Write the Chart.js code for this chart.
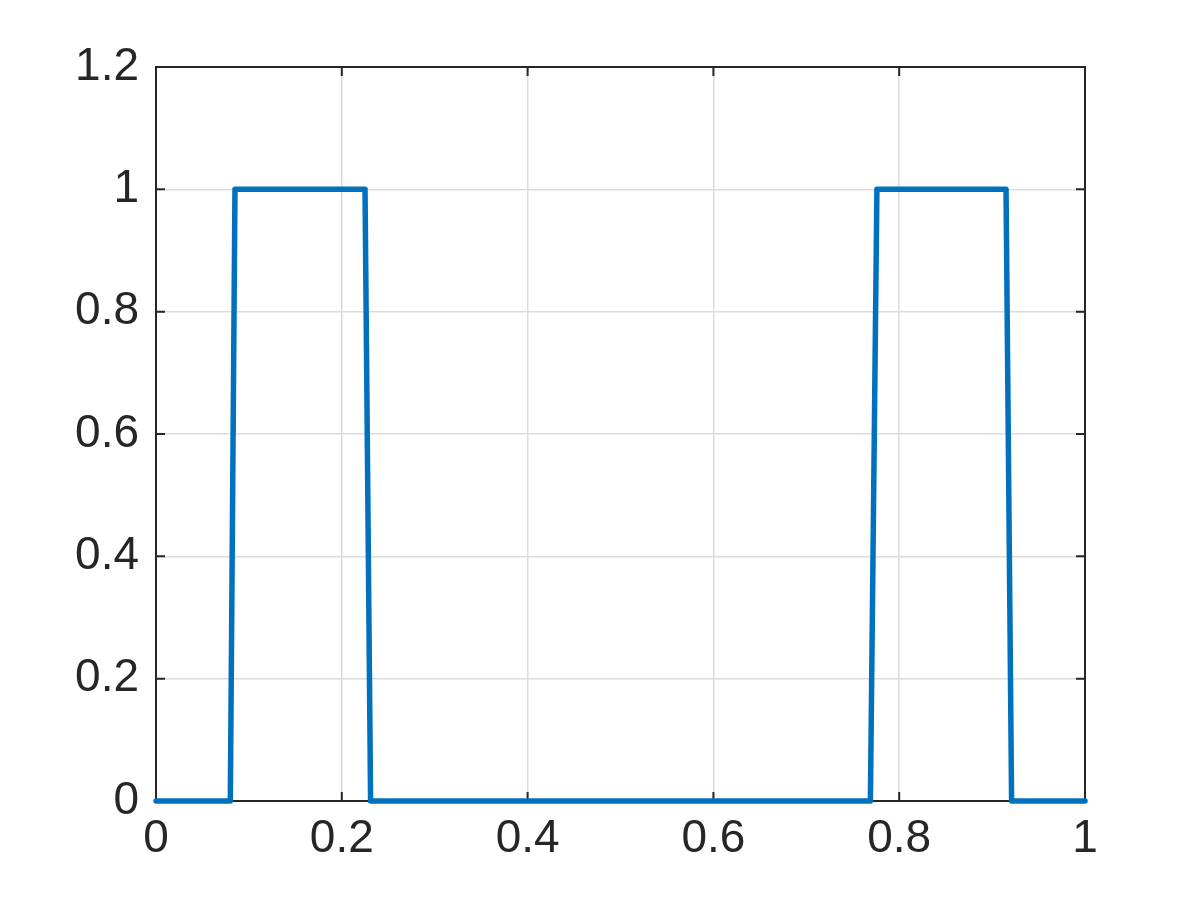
<!DOCTYPE html>
<html>
<head>
<meta charset="utf-8">
<script src="https://cdn.jsdelivr.net/npm/chart.js@4.4.1/dist/chart.umd.min.js"></script>
<style>
  html, body { margin: 0; padding: 0; background: #fff; }
  #wrap { width: 1200px; height: 900px; }
</style>
</head>
<body>
<div id="wrap"><canvas id="c" width="1200" height="900"></canvas></div>
<script>
/* Pulse signal: two rectangular bumps on [0, 1] */
var X_VALUES = [0, 0.08, 0.085, 0.225, 0.231, 0.769, 0.776, 0.915, 0.921, 1];
var Y_VALUES = [0, 0, 1, 1, 0, 0, 1, 1, 0, 0];
var X_TICKS = [0, 0.2, 0.4, 0.6, 0.8, 1];
var Y_TICKS = [0, 0.2, 0.4, 0.6, 0.8, 1, 1.2];

var INK = '#262626';
var LINE = '#0072BD';
var GRID = '#dcdcdc';
var FONT = { family: "'Liberation Sans', Arial, sans-serif", size: 46 };

/* box + inward tick marks, MATLAB style */
var boxTicks = {
  id: 'boxTicks',
  beforeDatasetsDraw: function(chart) {
    var a = chart.chartArea, ctx = chart.ctx;
    var xs = chart.scales.x, ys = chart.scales.y, len = 9;
    ctx.save();
    ctx.strokeStyle = INK;
    ctx.lineWidth = 2;
    ctx.beginPath();
    X_TICKS.forEach(function(v) {
      var px = xs.getPixelForValue(v);
      ctx.moveTo(px, a.bottom); ctx.lineTo(px, a.bottom - len);
      ctx.moveTo(px, a.top); ctx.lineTo(px, a.top + len);
    });
    Y_TICKS.forEach(function(v) {
      var py = ys.getPixelForValue(v);
      ctx.moveTo(a.left, py); ctx.lineTo(a.left + len, py);
      ctx.moveTo(a.right, py); ctx.lineTo(a.right - len, py);
    });
    ctx.stroke();
    ctx.strokeRect(a.left, a.top, a.right - a.left, a.bottom - a.top);
    ctx.restore();
  }
};

var points = X_VALUES.map(function(x, i) { return { x: x, y: Y_VALUES[i] }; });

new Chart(document.getElementById('c'), {
  type: 'scatter',
  data: {
    datasets: [{
      data: points, showLine: true, borderColor: LINE, borderWidth: 5.5, clip: false,
      pointRadius: 0, fill: false, tension: 0, borderJoinStyle: 'round', borderCapStyle: 'round'
    }]
  },
  options: {
    responsive: false, animation: false,
    layout: { padding: { left: 0, top: 67, right: 115, bottom: 0 } },
    plugins: { legend: { display: false }, tooltip: { enabled: false } },
    scales: {
      x: {
        type: 'linear', min: 0, max: 1,
        afterBuildTicks: function(s) { s.ticks = X_TICKS.map(function(v) { return { value: v }; }); },
        afterFit: function(s) { s.height = 99; },
        grid: { color: GRID, lineWidth: 1.5, drawTicks: false },
        border: { display: false },
        ticks: { color: INK, font: FONT, padding: 11, maxRotation: 0,
          callback: function(v) { return String(v); } }
      },
      y: {
        type: 'linear', min: 0, max: 1.2,
        afterBuildTicks: function(s) { s.ticks = Y_TICKS.map(function(v) { return { value: v }; }); },
        afterFit: function(s) { s.width = 156; },
        grid: { color: GRID, lineWidth: 1.5, drawTicks: false },
        border: { display: false },
        ticks: { color: INK, font: FONT, padding: 17,
          callback: function(v) { return String(v); } }
      }
    }
  },
  plugins: [boxTicks]
});
</script>
</body>
</html>
